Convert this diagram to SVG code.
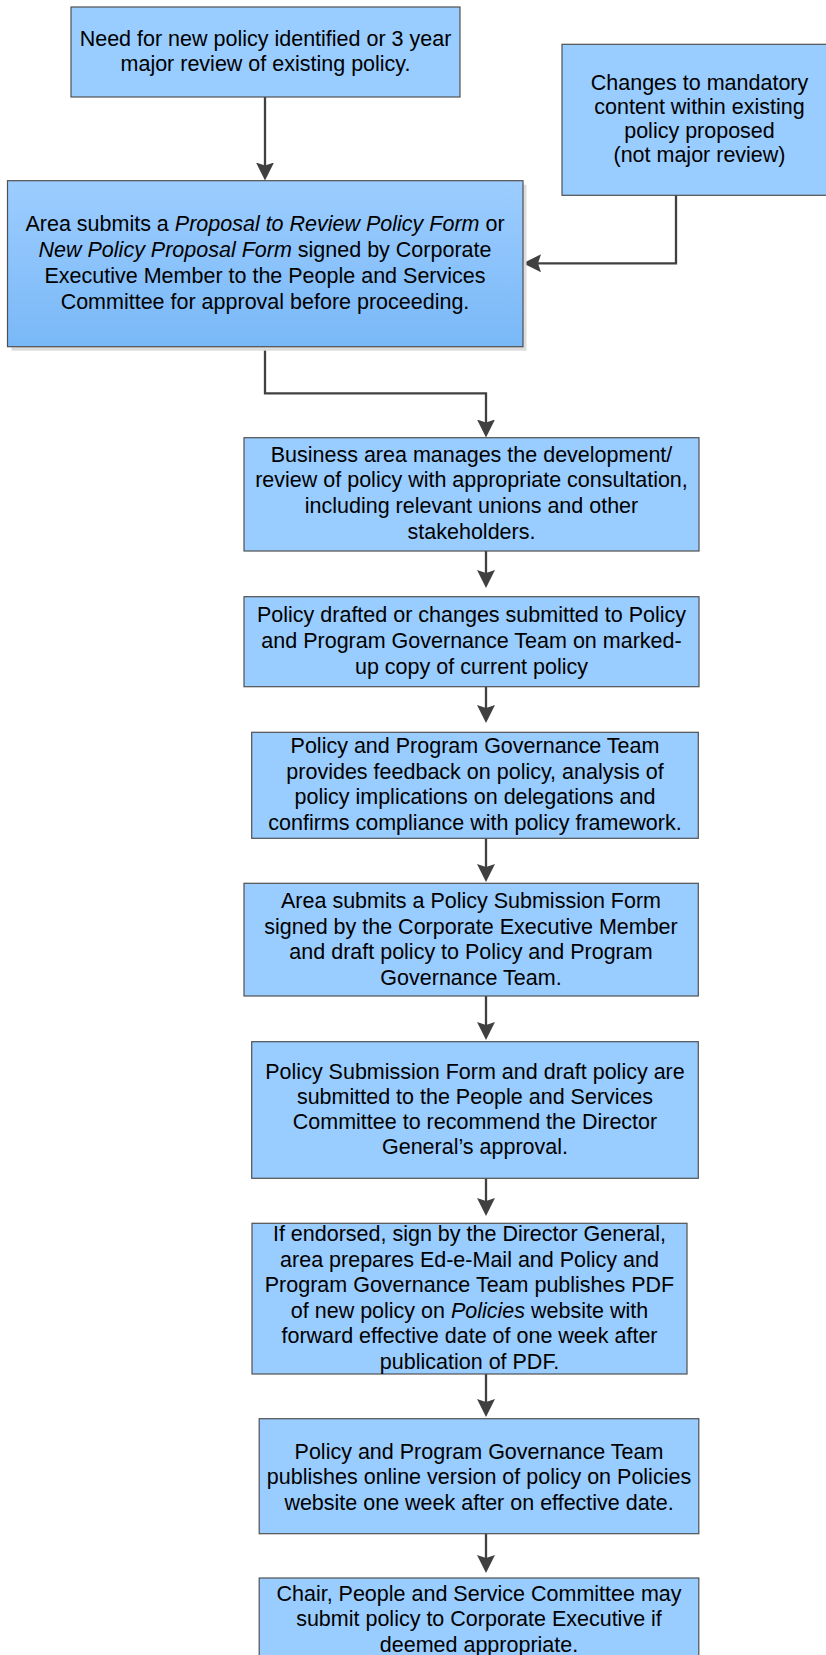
<svg xmlns="http://www.w3.org/2000/svg" width="826" height="1655" viewBox="0 0 826 1655">
<style>
.box{fill:#99ccff;stroke:#505050;stroke-width:1.2}
.t{font-family:"Liberation Sans",Arial,sans-serif;font-size:21.5px;fill:#000;text-anchor:middle}
.i{font-style:italic}
.c{fill:none;stroke:#404040;stroke-width:2.3}
</style>
<defs>
<linearGradient id="g2" x1="0" y1="0" x2="0" y2="1">
<stop offset="0" stop-color="#9dcdff"/>
<stop offset="1" stop-color="#79b8f7"/>
</linearGradient>
<marker id="ah" viewBox="0 0 19 19" markerWidth="19" markerHeight="19" refX="9" refY="9.5" orient="auto" markerUnits="userSpaceOnUse">
<path d="M0,0.5 L18,9.5 L0,18.5 L3,9.5 z" fill="#404040"/>
</marker>
</defs>

<g id="connectors">
<path class="c" d="M265,97 V171.5" marker-end="url(#ah)"/>
<path class="c" d="M676,195 V263.3 H532" marker-end="url(#ah)"/>
<path class="c" d="M265,347 V393.3 H486 V428.5" marker-end="url(#ah)"/>
<path class="c" d="M486,551 V579" marker-end="url(#ah)"/>
<path class="c" d="M486,686.7 V714" marker-end="url(#ah)"/>
<path class="c" d="M486,838.3 V873" marker-end="url(#ah)"/>
<path class="c" d="M486,996 V1031" marker-end="url(#ah)"/>
<path class="c" d="M486,1178.3 V1207" marker-end="url(#ah)"/>
<path class="c" d="M486,1374 V1408" marker-end="url(#ah)"/>
<path class="c" d="M486,1533.7 V1564" marker-end="url(#ah)"/>
</g>

<g id="n1">
<rect class="box" x="71" y="7" width="389" height="90"/>
<text class="t" x="265.5" y="45.5">Need for new policy identified or 3 year</text>
<text class="t" x="265.5" y="70.5">major review of existing policy.</text>
</g>

<g id="n2">
<rect class="box" x="562" y="44.3" width="275" height="151"/>
<text class="t" x="699.5" y="90">Changes to mandatory</text>
<text class="t" x="699.5" y="113.5">content within existing</text>
<text class="t" x="699.5" y="137.5">policy proposed</text>
<text class="t" x="699.5" y="161.5">(not major review)</text>
</g>

<g id="n3">
<rect x="11.5" y="184.7" width="515" height="166" fill="#dcdcdc"/>
<rect x="7.5" y="180.7" width="515.5" height="166" fill="url(#g2)" stroke="#505050" stroke-width="1.2"/>
<text class="t" x="265" y="230.5">Area submits a <tspan class="i">Proposal to Review Policy Form</tspan> or</text>
<text class="t" x="265" y="257"><tspan class="i">New Policy Proposal Form</tspan> signed by Corporate</text>
<text class="t" x="265" y="283">Executive Member to the People and Services</text>
<text class="t" x="265" y="309">Committee for approval before proceeding.</text>
</g>

<g id="n4">
<rect class="box" x="244" y="437.7" width="455" height="113.3"/>
<text class="t" x="471.5" y="462">Business area manages the development/</text>
<text class="t" x="471.5" y="487">review of policy with appropriate consultation,</text>
<text class="t" x="471.5" y="513">including relevant unions and other</text>
<text class="t" x="471.5" y="538.7">stakeholders.</text>
</g>

<g id="n5">
<rect class="box" x="244" y="596.7" width="455" height="90"/>
<text class="t" x="471.5" y="622">Policy drafted or changes submitted to Policy</text>
<text class="t" x="471.5" y="648">and Program Governance Team on marked-</text>
<text class="t" x="471.5" y="673.7">up copy of current policy</text>
</g>

<g id="n6">
<rect class="box" x="251.7" y="732.3" width="446.6" height="106"/>
<text class="t" x="475" y="752.7">Policy and Program Governance Team</text>
<text class="t" x="475" y="778.7">provides feedback on policy, analysis of</text>
<text class="t" x="475" y="804.3">policy implications on delegations and</text>
<text class="t" x="475" y="829.7">confirms compliance with policy framework.</text>
</g>

<g id="n7">
<rect class="box" x="244" y="883.3" width="454.3" height="112.7"/>
<text class="t" x="471" y="907.7">Area submits a Policy Submission Form</text>
<text class="t" x="471" y="933.7">signed by the Corporate Executive Member</text>
<text class="t" x="471" y="958.7">and draft policy to Policy and Program</text>
<text class="t" x="471" y="984.7">Governance Team.</text>
</g>

<g id="n8">
<rect class="box" x="251.7" y="1041.7" width="446.6" height="136.6"/>
<text class="t" x="475" y="1078.7">Policy Submission Form and draft policy are</text>
<text class="t" x="475" y="1103.7">submitted to the People and Services</text>
<text class="t" x="475" y="1128.7">Committee to recommend the Director</text>
<text class="t" x="475" y="1153.7">General’s approval.</text>
</g>

<g id="n9">
<rect class="box" x="252" y="1223.3" width="435" height="150.7"/>
<text class="t" x="469.5" y="1241.3">If endorsed, sign by the Director General,</text>
<text class="t" x="469.5" y="1267">area prepares Ed-e-Mail and Policy and</text>
<text class="t" x="469.5" y="1292.3">Program Governance Team publishes PDF</text>
<text class="t" x="469.5" y="1318">of new policy on <tspan class="i">Policies</tspan> website with</text>
<text class="t" x="469.5" y="1343.3">forward effective date of one week after</text>
<text class="t" x="469.5" y="1369">publication of PDF.</text>
</g>

<g id="n10">
<rect class="box" x="259.2" y="1418.7" width="439.6" height="115"/>
<text class="t" x="479" y="1458.7">Policy and Program Governance Team</text>
<text class="t" x="479" y="1484.3">publishes online version of policy on Policies</text>
<text class="t" x="479" y="1509.7">website one week after on effective date.</text>
</g>

<g id="n11">
<rect class="box" x="259.2" y="1578" width="439.6" height="100"/>
<text class="t" x="479" y="1601.3">Chair, People and Service Committee may</text>
<text class="t" x="479" y="1626.3">submit policy to Corporate Executive if</text>
<text class="t" x="479" y="1652">deemed appropriate.</text>
</g>
</svg>
